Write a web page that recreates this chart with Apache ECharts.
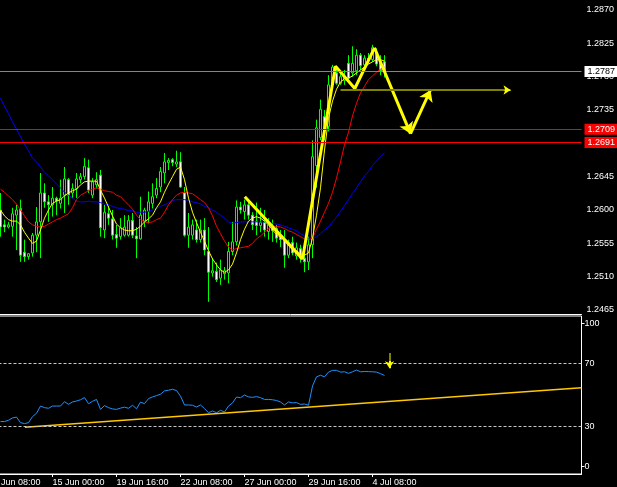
<!DOCTYPE html>
<html><head><meta charset="utf-8">
<script src="https://cdn.jsdelivr.net/npm/echarts@6/dist/echarts.min.js"></script>
<style>html,body{margin:0;padding:0;background:#000;}#c{width:617px;height:487px;}</style>
</head><body><div id="c"></div>
<script>
// ---- data (H4 bars, bar index 0 = 12 Jun 08:00) ----
const barStart = 3;
const opens = [
1.2600,1.2580,1.2577,1.2578,1.2593,1.2602,1.2543,1.2537,1.2542,1.2566,
1.2584,1.2623,1.2611,1.2607,1.2616,1.2609,1.2620,1.2641,1.2623,1.2629,
1.2641,1.2645,1.2657,1.2620,1.2634,1.2647,1.2573,1.2595,1.2588,1.2567,
1.2564,1.2566,1.2566,1.2586,1.2565,1.2561,1.2585,1.2598,1.2609,1.2620,
1.2631,1.2650,1.2664,1.2668,1.2662,1.2665,1.2623,1.2566,1.2566,1.2573,
1.2560,1.2573,1.2544,1.2515,1.2517,1.2508,1.2514,1.2515,1.2544,1.2557,
1.2604,1.2598,1.2607,1.2593,1.2585,1.2579,1.2583,1.2571,1.2577,1.2575,
1.2566,1.2560,1.2539,1.2556,1.2538,1.2548,1.2535,1.2530,1.2553,1.2660,
1.2698,1.2726,1.2713,1.2769,1.2785,1.2771,1.2775,1.2798,1.2785,1.2788,
1.2809,1.2796,1.2805,1.2803,1.2812,1.2800,1.2800];
const closes = [
1.2577,1.2577,1.2580,1.2595,1.2600,1.2539,1.2537,1.2541,1.2566,1.2584,
1.2623,1.2611,1.2607,1.2616,1.2612,1.2616,1.2642,1.2620,1.2629,1.2642,
1.2645,1.2659,1.2627,1.2638,1.2641,1.2576,1.2597,1.2589,1.2566,1.2562,
1.2576,1.2577,1.2586,1.2566,1.2561,1.2593,1.2600,1.2611,1.2618,1.2629,
1.2652,1.2665,1.2667,1.2664,1.2665,1.2631,1.2566,1.2577,1.2580,1.2560,
1.2573,1.2546,1.2516,1.2518,1.2506,1.2519,1.2518,1.2544,1.2557,1.2604,
1.2600,1.2607,1.2593,1.2580,1.2579,1.2583,1.2573,1.2580,1.2572,1.2562,
1.2560,1.2539,1.2556,1.2542,1.2549,1.2535,1.2530,1.2553,1.2672,1.2711,
1.2736,1.2708,1.2769,1.2793,1.2771,1.2780,1.2781,1.2778,1.2798,1.2809,
1.2795,1.2805,1.2803,1.2819,1.2797,1.2788,1.2787];
const lows = [
1.2564,1.2570,1.2575,1.2564,1.2546,1.2530,1.2530,1.2533,1.2537,1.2543,
1.2535,1.2603,1.2584,1.2591,1.2593,1.2602,1.2596,1.2607,1.2616,1.2616,
1.2636,1.2641,1.2623,1.2616,1.2629,1.2564,1.2562,1.2580,1.2560,1.2549,
1.2560,1.2564,1.2564,1.2562,1.2535,1.2560,1.2577,1.2582,1.2602,1.2616,
1.2624,1.2636,1.2654,1.2659,1.2658,1.2630,1.2564,1.2549,1.2560,1.2556,
1.2556,1.2539,1.2476,1.2510,1.2503,1.2499,1.2506,1.2501,1.2539,1.2552,
1.2595,1.2587,1.2587,1.2573,1.2566,1.2570,1.2564,1.2560,1.2557,1.2556,
1.2550,1.2522,1.2535,1.2539,1.2533,1.2529,1.2516,1.2519,1.2535,1.2630,
1.2694,1.2694,1.2706,1.2769,1.2769,1.2769,1.2769,1.2776,1.2780,1.2782,
1.2789,1.2787,1.2798,1.2800,1.2794,1.2782,1.2779];
const highs = [
1.2623,1.2587,1.2584,1.2603,1.2607,1.2614,1.2560,1.2542,1.2569,1.2604,
1.2650,1.2636,1.2620,1.2631,1.2618,1.2641,1.2658,1.2643,1.2636,1.2650,
1.2650,1.2670,1.2668,1.2643,1.2651,1.2654,1.2607,1.2605,1.2600,1.2580,
1.2589,1.2593,1.2593,1.2596,1.2577,1.2618,1.2603,1.2625,1.2636,1.2643,
1.2658,1.2677,1.2670,1.2670,1.2680,1.2678,1.2631,1.2596,1.2587,1.2587,
1.2587,1.2589,1.2577,1.2535,1.2529,1.2533,1.2523,1.2557,1.2584,1.2613,
1.2611,1.2614,1.2611,1.2597,1.2610,1.2603,1.2600,1.2589,1.2587,1.2580,
1.2573,1.2573,1.2560,1.2564,1.2556,1.2553,1.2553,1.2564,1.2694,1.2722,
1.2749,1.2735,1.2782,1.2796,1.2793,1.2786,1.2789,1.2809,1.2821,1.2817,
1.2812,1.2809,1.2812,1.2823,1.2818,1.2809,1.2809];
const maFast = [
1.2600,1.2592,1.2587,1.2585,1.2585,1.2580,1.2570,1.2562,1.2555,1.2558,
1.2573,1.2589,1.2600,1.2609,1.2612,1.2614,1.2619,1.2623,1.2626,1.2628,
1.2634,1.2638,1.2639,1.2639,1.2639,1.2627,1.2616,1.2604,1.2592,1.2581,
1.2576,1.2573,1.2572,1.2572,1.2574,1.2578,1.2584,1.2588,1.2593,1.2603,
1.2611,1.2624,1.2635,1.2645,1.2655,1.2658,1.2641,1.2616,1.2597,1.2583,
1.2570,1.2558,1.2545,1.2534,1.2526,1.2519,1.2516,1.2519,1.2527,1.2542,
1.2560,1.2574,1.2585,1.2589,1.2591,1.2589,1.2585,1.2580,1.2573,1.2567,
1.2563,1.2560,1.2553,1.2547,1.2545,1.2541,1.2539,1.2542,1.2562,1.2593,
1.2630,1.2681,1.2724,1.2747,1.2763,1.2773,1.2777,1.2778,1.2781,1.2785,
1.2789,1.2793,1.2797,1.2800,1.2803,1.2803,1.2801];
const maMid = [
1.2628,1.2624,1.2619,1.2614,1.2608,1.2600,1.2592,1.2584,1.2580,1.2578,
1.2577,1.2578,1.2581,1.2584,1.2587,1.2589,1.2592,1.2595,1.2603,1.2614,
1.2620,1.2623,1.2626,1.2628,1.2630,1.2628,1.2626,1.2625,1.2624,1.2620,
1.2618,1.2612,1.2607,1.2601,1.2593,1.2587,1.2584,1.2583,1.2584,1.2587,
1.2589,1.2597,1.2607,1.2614,1.2620,1.2623,1.2624,1.2623,1.2622,1.2618,
1.2614,1.2610,1.2603,1.2592,1.2578,1.2568,1.2558,1.2550,1.2546,1.2548,
1.2549,1.2550,1.2551,1.2555,1.2561,1.2565,1.2570,1.2575,1.2578,1.2578,
1.2577,1.2575,1.2572,1.2570,1.2567,1.2564,1.2561,1.2560,1.2562,1.2574,
1.2585,1.2597,1.2609,1.2624,1.2643,1.2665,1.2688,1.2705,1.2727,1.2744,
1.2758,1.2767,1.2776,1.2781,1.2786,1.2790,1.2793];
const maSlow = [
1.2751,1.2740,1.2730,1.2719,1.2709,1.2699,1.2689,1.2680,1.2670,1.2665,
1.2658,1.2651,1.2646,1.2641,1.2635,1.2630,1.2624,1.2620,1.2616,1.2612,
1.2611,1.2611,1.2612,1.2611,1.2611,1.2610,1.2608,1.2607,1.2605,1.2603,
1.2602,1.2601,1.2599,1.2599,1.2597,1.2597,1.2597,1.2598,1.2600,1.2602,
1.2605,1.2607,1.2610,1.2613,1.2614,1.2614,1.2614,1.2613,1.2611,1.2610,
1.2608,1.2605,1.2603,1.2600,1.2597,1.2593,1.2589,1.2584,1.2582,1.2583,
1.2584,1.2584,1.2584,1.2584,1.2584,1.2584,1.2584,1.2583,1.2582,1.2581,
1.2580,1.2578,1.2576,1.2574,1.2572,1.2568,1.2565,1.2562,1.2562,1.2564,
1.2568,1.2573,1.2577,1.2584,1.2590,1.2598,1.2606,1.2614,1.2622,1.2630,
1.2638,1.2646,1.2652,1.2660,1.2666,1.2672,1.2677];
const rsi = [
33.2,33.2,34.0,35.5,36.0,32.5,31.9,32.5,36.3,38.4,
43.0,42.0,41.6,43.0,43.0,43.0,45.8,44.1,45.6,46.2,
47.0,48.3,44.5,46.0,47.2,40.9,43.3,42.0,41.2,40.9,
41.7,42.3,41.6,43.5,41.3,45.5,44.5,47.7,48.8,49.6,
50.5,52.6,53.0,53.6,52.8,49.3,43.7,43.7,43.5,42.4,
43.7,41.4,38.8,39.9,38.8,40.3,39.2,43.0,45.0,48.7,
48.3,50.0,48.8,48.5,49.0,48.3,47.2,47.2,47.0,46.5,
45.6,43.7,45.6,45.0,45.2,44.1,44.3,43.5,55.7,61.5,
62.5,61.5,64.5,65.6,65.6,64.5,64.7,63.7,64.7,65.8,
64.7,64.9,64.8,64.7,64.5,63.5,62.4];

const timeTickIndex = [0, 16, 32, 48, 64, 80, 96];
const timeTickLabels = ['12 Jun 08:00','15 Jun 00:00','19 Jun 16:00','22 Jun 08:00','27 Jun 00:00','29 Jun 16:00','4 Jul 08:00'];
const priceTicks = [1.2465,1.2510,1.2555,1.2600,1.2645,1.2690,1.2735,1.2780,1.2825,1.2870];
const priceMin = 1.24596, priceMax = 1.28835;
const viewBars = 148.25;
const lastPrice = 1.2787;
const redLevels = [1.2709, 1.2691];
const rsiLevels = [70, 30];
const rsiTicks = [30, 70];
const rsiEdgeTicks = [0, 100];

// drawing objects (bar index, price)
const zigzag = [[64.08,1.2618],[78.5,1.2534],[86.75,1.2794],[91.58,1.2764],[96.5,1.2819]];
const arrowDown = [[96.5,1.2819],[105.5,1.2703]];
const arrowUp = [[105.5,1.2703],[110.5,1.2762]];
const targetLine = [[88,1.2762],[130.5,1.2762]];
const rsiTrend = [[9.1,29.6],[148.25,54.6]];
const rsiSignalShaft = [[100.25,76.6],[100.25,71.0]];
const rsiSignalHead = [[100.25,71.5],[100.25,67.0]];

// ---- build ----
const idx = k => barStart + k;
const candles = opens.map((o,k)=>[idx(k), o, closes[k], lows[k], highs[k]]);
const pts = arr => arr.map((v,k)=>[idx(k), v]);
const FONT = 'Liberation Sans, Arial, sans-serif';
const WHITE = '#ffffff';

const chart = echarts.init(document.getElementById('c'), null, {renderer:'canvas'});
const seg = (a, b, color, width, endSymbol, size) => [
  {coord: a, symbol: 'none', lineStyle: {color, width, type: 'solid'}},
  {coord: b, symbol: endSymbol || 'none', symbolSize: size || 10}
];
const headStart = [targetLine[1][0] - 1.5, targetLine[1][1]];
const level = (v, lineColor, textColor, bg) => [
  {coord: [0, v], symbol: 'none', lineStyle: {color: lineColor, width: 1, type: 'solid'},
   label: {show: true, position: 'end', distance: 3, formatter: v.toFixed(4), color: textColor, backgroundColor: bg,
           fontSize: 9, fontFamily: FONT, padding: [1, 3, 0, 3], lineHeight: 10}},
  {coord: [viewBars, v], symbol: 'none'}
];

chart.setOption({
  backgroundColor: '#000',
  animation: false,
  textStyle: {fontFamily: FONT, fontSize: 9},
  grid: [
    {left: -11.5, right: 35.5, top: 0, height: 314, outerBoundsMode: 'none', containLabel: false},
    {left: -11.5, right: 35.5, top: 316, height: 158, outerBoundsMode: 'none', containLabel: false,
     show: true, borderColor: WHITE, borderWidth: 1, backgroundColor: 'transparent'}
  ],
  xAxis: [
    {gridIndex: 0, type: 'value', min: 0, max: viewBars,
     axisLine: {show: true, lineStyle: {color: WHITE, width: 1}}, axisTick: {show: false}, axisLabel: {show: false}, splitLine: {show: false}},
    {gridIndex: 1, type: 'value', min: 0, max: viewBars,
     axisLine: {show: true, lineStyle: {color: WHITE, width: 1}},
     axisTick: {show: true, customValues: timeTickIndex, length: 3, lineStyle: {color: WHITE}},
     axisLabel: {show: true, customValues: timeTickIndex, formatter: v => timeTickLabels[timeTickIndex.indexOf(v)] || '',
                 align: 'left', color: WHITE, margin: 4, fontSize: 9, fontFamily: FONT},
     splitLine: {show: false}}
  ],
  yAxis: [
    {gridIndex: 0, type: 'value', position: 'right', min: priceMin, max: priceMax, scale: true,
     axisLine: {show: true, lineStyle: {color: WHITE, width: 1}},
     axisTick: {show: true, customValues: priceTicks, length: 4, lineStyle: {color: WHITE}},
     axisLabel: {show: true, customValues: priceTicks, formatter: v => v.toFixed(4), color: WHITE, margin: 5, fontSize: 9, fontFamily: FONT},
     splitLine: {show: false}},
    {gridIndex: 1, type: 'value', position: 'right', min: 0, max: 100,
     axisLine: {show: false},
     axisTick: {show: true, customValues: rsiTicks, length: 3, lineStyle: {color: WHITE}},
     axisLabel: {show: true, customValues: rsiTicks, color: WHITE, margin: 3, fontSize: 9, fontFamily: FONT},
     splitLine: {show: false}},
    {gridIndex: 1, type: 'value', position: 'right', min: -5.4, max: 104.9,
     axisLine: {show: false},
     axisTick: {show: true, customValues: rsiEdgeTicks, length: 3, lineStyle: {color: WHITE}},
     axisLabel: {show: true, customValues: rsiEdgeTicks, color: WHITE, margin: 3, fontSize: 9, fontFamily: FONT},
     splitLine: {show: false}}
  ],
  series: [
    {type: 'candlestick', xAxisIndex: 0, yAxisIndex: 0, data: candles, barWidth: 2,
     itemStyle: {color: '#000000', color0: '#ffffff', borderColor: '#00ff00', borderColor0: '#00ff00', borderColorDoji: '#00ff00', borderWidth: 1},
     markLine: {silent: true, symbol: 'none', animation: false, precision: 4,
       data: [
         level(lastPrice, '#778899', '#000000', '#ffffff'),
         ...redLevels.map(v => level(v, '#ff0000', '#ffffff', '#ff0000'))
       ]}},
    {type: 'line', xAxisIndex: 0, yAxisIndex: 0, data: pts(maSlow), showSymbol: false, lineStyle: {color: '#0000ff', width: 1}, z: 3},
    {type: 'line', xAxisIndex: 0, yAxisIndex: 0, data: pts(maMid), showSymbol: false, lineStyle: {color: '#ff0000', width: 1}, z: 3},
    {type: 'line', xAxisIndex: 0, yAxisIndex: 0, data: pts(maFast), showSymbol: false, lineStyle: {color: '#ffff00', width: 1}, z: 3},
    {type: 'line', xAxisIndex: 0, yAxisIndex: 0, data: zigzag, showSymbol: false, lineStyle: {color: '#ffff00', width: 3}, z: 4,
     markLine: {silent: true, animation: false, label: {show: false}, symbol: ['none', 'arrow'],
       data: [
         seg(arrowDown[0], arrowDown[1], '#ffff00', 3, 'arrow', 11),
         seg(arrowUp[0], arrowUp[1], '#ffff00', 3, 'arrow', 11),
         seg(targetLine[0], targetLine[1], '#808000', 2, 'none'),
         seg(headStart, targetLine[1], '#ffff00', 1, 'arrow', 7)
       ]}},
    {type: 'line', xAxisIndex: 1, yAxisIndex: 1, data: pts(rsi), showSymbol: false, lineStyle: {color: '#1e90ff', width: 1}, z: 3,
     markLine: {silent: true, symbol: 'none', animation: false, label: {show: false},
       lineStyle: {color: '#c8c8c8', type: [3, 2], width: 1},
       data: rsiLevels.map(v => ({yAxis: v}))}},
    {type: 'line', xAxisIndex: 1, yAxisIndex: 1, data: rsiTrend, showSymbol: false, lineStyle: {color: '#ffc800', width: 1.5}, z: 4,
     markLine: {silent: true, animation: false, label: {show: false},
       data: [
         seg(rsiSignalShaft[0], rsiSignalShaft[1], '#808000', 2, 'none'),
         seg(rsiSignalHead[0], rsiSignalHead[1], '#ffff00', 2, 'arrow', 7)
       ]}}
  ]
});
</script>
</body></html>
